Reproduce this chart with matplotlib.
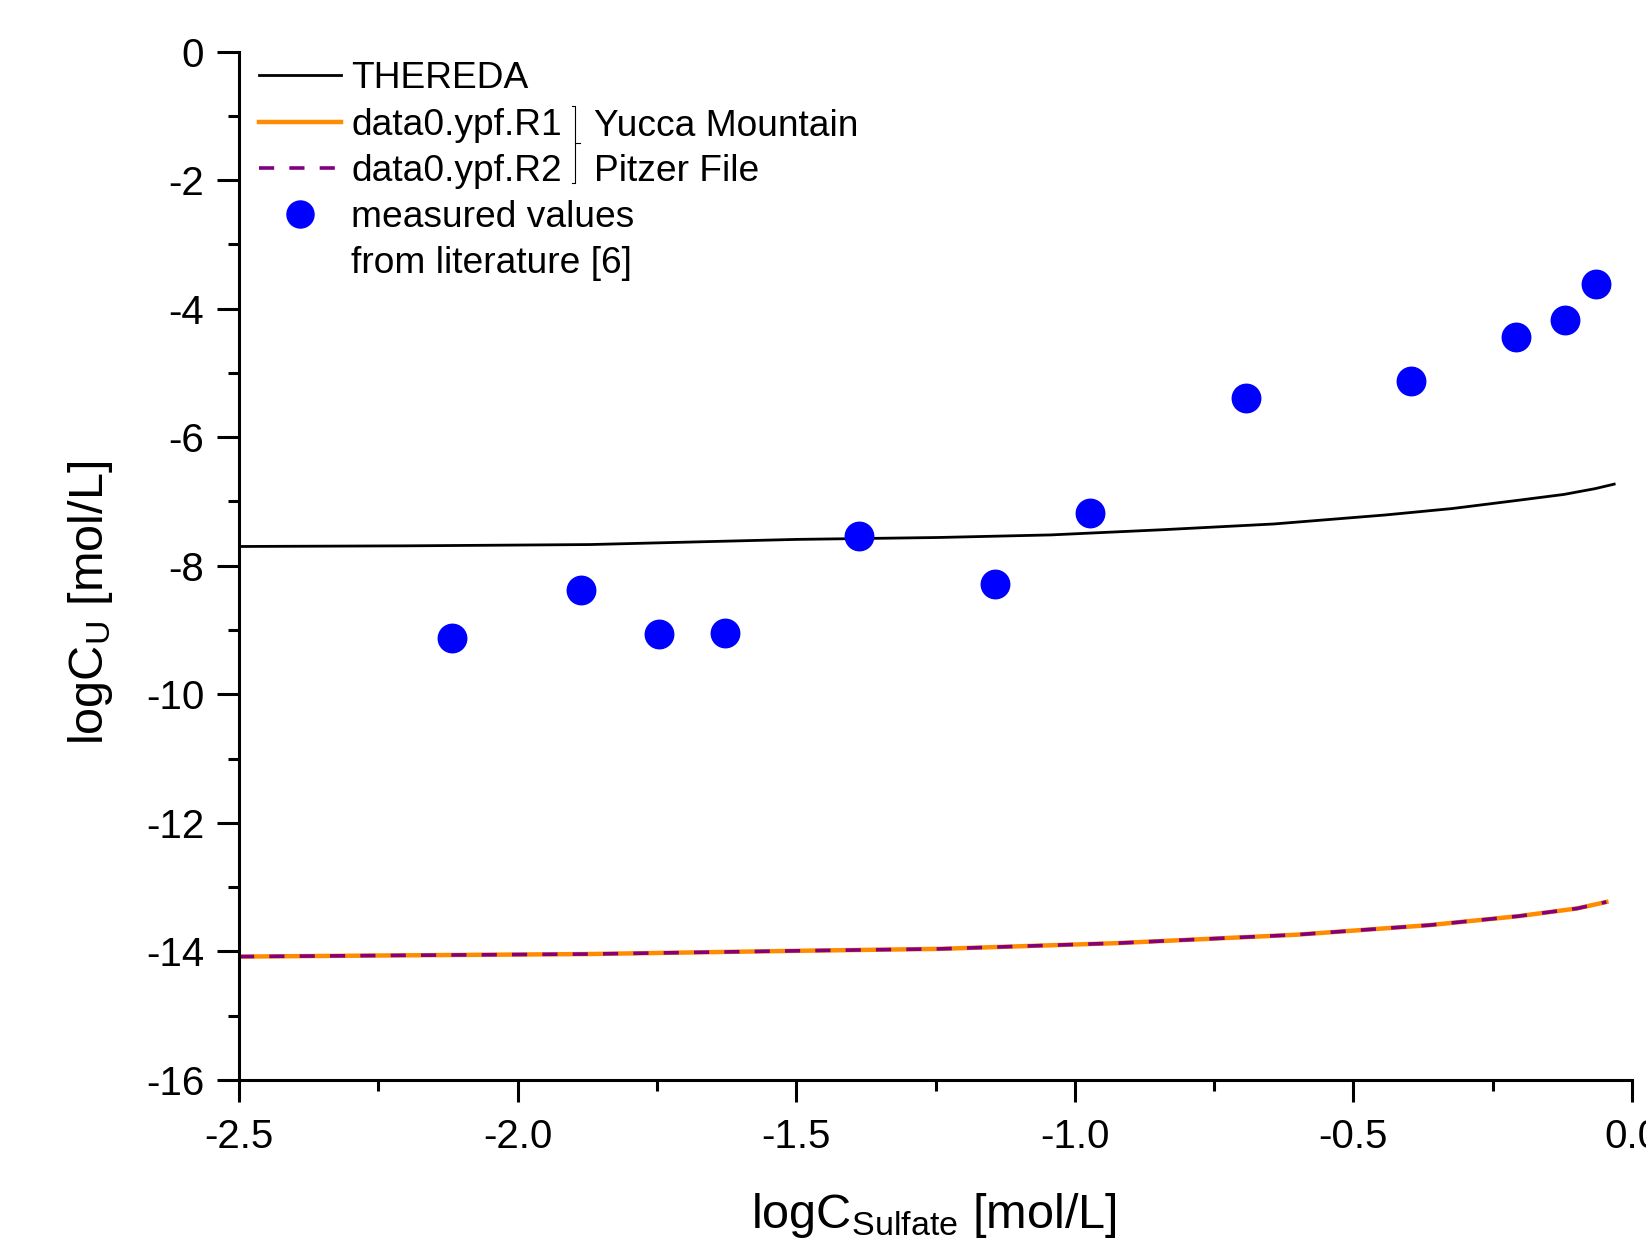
import matplotlib
matplotlib.use("Agg")
import matplotlib.pyplot as plt
from matplotlib.lines import Line2D
from matplotlib.ticker import MultipleLocator, FormatStrFormatter

plt.rcParams['font.family'] = ['Liberation Sans', 'DejaVu Sans']
plt.rcParams['mathtext.fontset'] = 'custom'
plt.rcParams['mathtext.rm'] = 'Liberation Sans'
plt.rcParams['axes.unicode_minus'] = False

# THEREDA calculation
thereda_x = [-2.5, -2.2, -1.87, -1.5, -1.244, -1.043, -0.844, -0.643, -0.443,
             -0.323, -0.203, -0.122, -0.066, -0.032]
thereda_y = [-7.70, -7.69, -7.67, -7.59, -7.56, -7.52, -7.44, -7.35, -7.21,
             -7.11, -6.98, -6.89, -6.80, -6.73]

# Yucca Mountain Pitzer file (R1 and R2 coincide)
yucca_x = [-2.5, -2.2, -1.872, -1.5, -1.244, -0.923, -0.603, -0.363, -0.203,
           -0.098, -0.046]
r1_y = [-14.08, -14.06, -14.04, -13.99, -13.96, -13.87, -13.74, -13.59, -13.45,
        -13.33, -13.23]
r2_y = [-14.08, -14.06, -14.04, -13.99, -13.96, -13.87, -13.74, -13.59, -13.45,
        -13.33, -13.23]

# measured values from literature [6]
meas_x = [-2.117, -1.887, -1.746, -1.627, -1.388, -1.143, -0.973, -0.693,
          -0.397, -0.209, -0.120, -0.064]
meas_y = [-9.13, -8.38, -9.06, -9.05, -7.54, -8.28, -7.18, -5.39,
          -5.13, -4.44, -4.18, -3.62]

fig = plt.figure(figsize=(16.46, 12.38), dpi=100)
ax = fig.add_axes([0.1452, 0.1276, 0.8463, 0.8308])

ax.plot(thereda_x, thereda_y, color='black', lw=2.0, label='THEREDA')
ax.plot(yucca_x, r1_y, color='#FF8C00', lw=3.2, label='data0.ypf.R1')
ax.plot(yucca_x, r2_y, color='#800080', lw=2.6, ls=(0, (4.2, 4.2)),
        label='data0.ypf.R2')
ax.plot(meas_x, meas_y, 'o', color='#0000FF', ms=20.5, ls='none',
        label='measured values')

ax.set_xlim(-2.5, 0.0)
ax.set_ylim(-16, 0)
ax.xaxis.set_major_locator(MultipleLocator(0.5))
ax.xaxis.set_minor_locator(MultipleLocator(0.25))
ax.yaxis.set_major_locator(MultipleLocator(2))
ax.yaxis.set_minor_locator(MultipleLocator(1))
ax.xaxis.set_major_formatter(FormatStrFormatter('%.1f'))
ax.yaxis.set_major_formatter(FormatStrFormatter('%d'))

for s in ['top', 'right']:
    ax.spines[s].set_visible(False)
for s in ['left', 'bottom']:
    ax.spines[s].set_linewidth(2.2)
ax.tick_params(which='major', direction='out', length=16, width=2.2,
               labelsize=29, pad=9)
ax.tick_params(axis='x', which='major', pad=11)
ax.tick_params(which='minor', direction='out', length=8, width=2.2)

ax.set_xlabel('$\\mathregular{logC_{Sulfate}}$ [mol/L]', fontsize=35)
ax.set_ylabel('$\\mathregular{logC_{U}}$ [mol/L]', fontsize=35)
ax.xaxis.set_label_coords(0.499, -0.108)
ax.yaxis.set_label_coords(-0.0887, 0.464)

handles, labels = ax.get_legend_handles_labels()
handles.append(Line2D([], [], color='none'))
labels.append('from literature [6]')
ax.legend(handles, labels, loc='upper left', bbox_to_anchor=(0.0144, 0.9903),
          frameon=False, fontsize=26.7, borderpad=0, borderaxespad=0,
          handlelength=2.21, handletextpad=0.28, labelspacing=0.30,
          markerscale=0.95)

# bracket grouping R1/R2
bx, btop, bbot, bmid = 0.2412, 0.947, 0.8725, 0.911
ax.plot([0.2391, bx, bx, 0.2391], [btop, btop, bbot, bbot], color='black',
        lw=0.8, transform=ax.transAxes)
ax.plot([bx, 0.2448], [bmid, bmid], color='black', lw=0.8,
        transform=ax.transAxes)
ax.text(0.2548, 0.9272, 'Yucca Mountain', fontsize=26.7, va='center',
        transform=ax.transAxes)
ax.text(0.2548, 0.8834, 'Pitzer File', fontsize=26.7, va='center',
        transform=ax.transAxes)

fig.savefig('out.png', dpi=100)
